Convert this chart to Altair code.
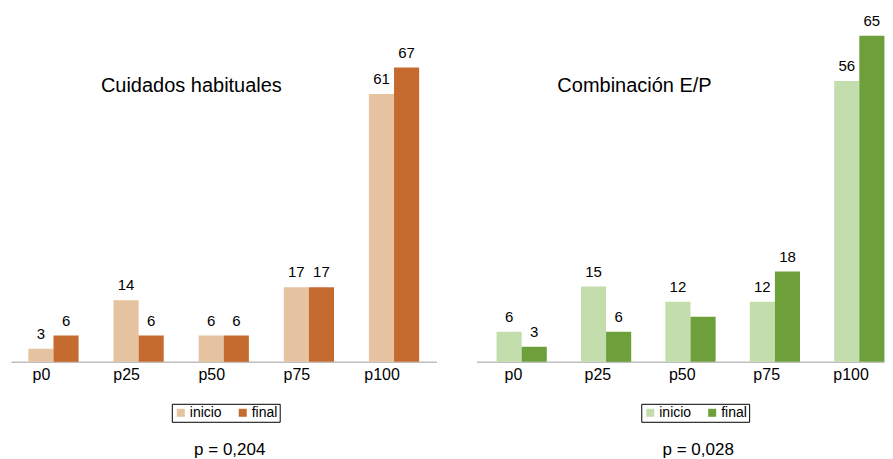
import altair as alt
import pandas as pd

FONT = "Liberation Sans"

categorias = ["p0", "p25", "p50", "p75", "p100"]
series = ["inicio", "final"]

cuidados_inicio = [3, 14, 6, 17, 61]
cuidados_final = [6, 6, 6, 17, 67]
cuidados_lab_inicio = ["3", "14", "6", "17", "61"]
cuidados_lab_final = ["6", "6", "6", "17", "67"]

combinacion_inicio = [6, 15, 12, 12, 56]
combinacion_final = [3, 6, 9, 18, 65]
combinacion_lab_inicio = ["6", "15", "12", "12", "56"]
combinacion_lab_final = ["3", "6", "", "18", "65"]

titulos = ["Cuidados habituales", "Combinación E/P"]
pvalores = ["p = 0,204", "p = 0,028"]

colores_cuidados = ["#E6C3A0", "#C66B30"]
colores_combinacion = ["#C4DDAD", "#6D9F3B"]


def build_df(ini, fin, lab_ini, lab_fin):
    rows = []
    for i, c in enumerate(categorias):
        rows.append({"cat": c, "serie": "inicio", "valor": ini[i], "label": lab_ini[i]})
        rows.append({"cat": c, "serie": "final", "valor": fin[i], "label": lab_fin[i]})
    return pd.DataFrame(rows)


def panel(df, colores, titulo, pval, ymax, width, pad_outer, align, legx, tx, pdx, loff):
    xscale = alt.Scale(paddingInner=0.41, paddingOuter=pad_outer, align=align, round=False)
    x = alt.X("cat:N", sort=categorias, scale=xscale,
              axis=alt.Axis(title=None, ticks=False, grid=False, labelAngle=0,
                            domainColor="#BFBFBF", domainWidth=1.5,
                            labelFontSize=16, labelFont=FONT, labelColor="black",
                            labelPadding=5, labelAlign="center",
                            labelOffset=loff))
    xo = alt.XOffset("serie:N", sort=series)
    y = alt.Y("valor:Q", scale=alt.Scale(domain=[0, ymax], nice=False), axis=None)
    color = alt.Color("serie:N",
                      scale=alt.Scale(domain=series, range=colores),
                      legend=alt.Legend(orient="none", legendX=legx, legendY=396,
                                        direction="horizontal", title=None,
                                        strokeColor="black", padding=2,
                                        symbolType="square", symbolSize=64,
                                        symbolStrokeWidth=0,
                                        labelFontSize=14, labelFont=FONT,
                                        labelColor="black", columnPadding=14,
                                        labelOffset=2))
    bars = alt.Chart(df).mark_bar().encode(x=x, xOffset=xo, y=y, color=color)
    labels = alt.Chart(df).mark_text(dy=-10, baseline="alphabetic", fontSize=15,
                                     font=FONT, color="black").encode(
        x=x, xOffset=xo, y=y, text="label:N")
    tdf = pd.DataFrame({"t": [titulo]})
    tit = alt.Chart(tdf).mark_text(align="left", baseline="alphabetic", fontSize=20,
                                   font=FONT, color="black").encode(
        x=alt.value(tx), y=alt.value(84), text="t:N")
    return alt.layer(bars, labels, tit).properties(
        width=width, height=354,
        title=alt.TitleParams(text=pval, orient="bottom", anchor="middle",
                              baseline="top",
                              fontSize=17, font=FONT, fontWeight="normal",
                              color="black", dx=pdx, offset=20))


left = panel(build_df(cuidados_inicio, cuidados_final, cuidados_lab_inicio, cuidados_lab_final),
             colores_cuidados, titulos[0], pvalores[0], 80.5, 426, 0.204, 0.5, 161, 90, 6, -12)
right = panel(build_df(combinacion_inicio, combinacion_final, combinacion_lab_inicio, combinacion_lab_final),
              colores_combinacion, titulos[1], pvalores[1], 70.5, 408, 0.119, 1.0, 165, 81, 18, -8)

chart = alt.hconcat(left, right, spacing=40).resolve_scale(
    color="independent", x="independent", y="independent").properties(
    padding={"left": 3, "top": 0, "right": 0, "bottom": 0}
).configure(font=FONT).configure_view(stroke=None)

chart.save("out.html", embed_options={"renderer": "svg", "actions": False})
